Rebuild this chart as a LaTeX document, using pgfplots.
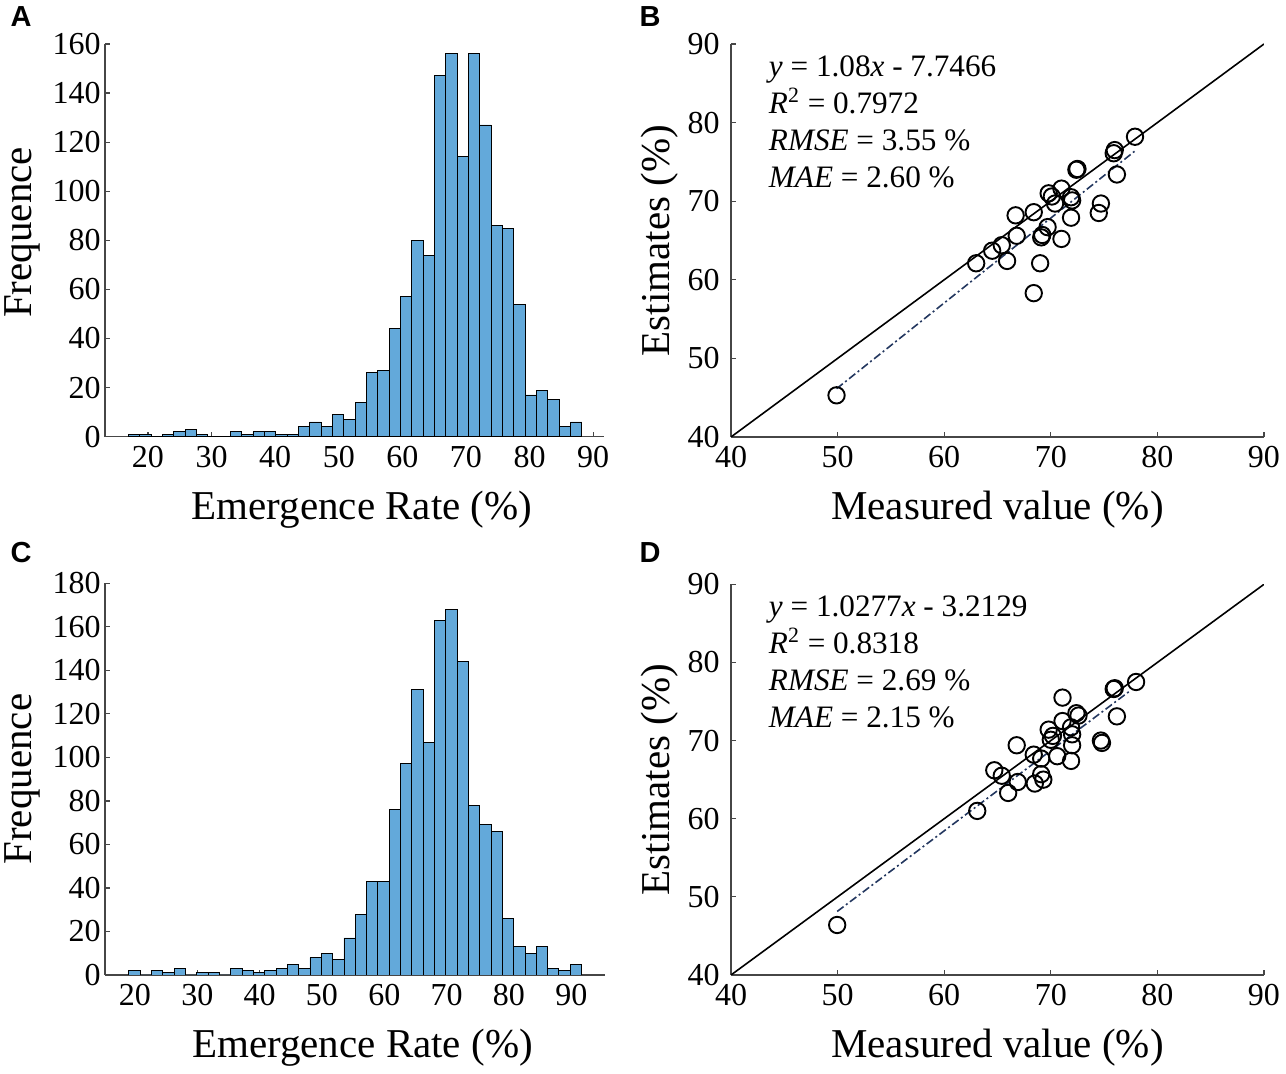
\documentclass[border=0pt]{standalone}
\usepackage{fontspec}
\setmainfont{Liberation Serif}
\newfontfamily\panelfont{Liberation Sans}
\usepackage{pgfplots}
\pgfplotsset{compat=1.18}
\definecolor{barblue}{RGB}{99,169,218}
\definecolor{fitblue}{RGB}{35,55,95}
\definecolor{axgray}{RGB}{70,70,70}
\newcommand{\tickfont}{\fontsize{16}{19}\selectfont}
\newcommand{\labfont}{\fontsize{20.5}{24}\selectfont}
\newcommand{\annfont}{\fontsize{15.6}{19}\selectfont}
\newcommand{\letterfont}{\panelfont\bfseries\fontsize{14.5}{15}\selectfont}
\pgfplotsset{
  panel/.style={
    scale only axis,
    anchor=south west,
    axis x line*=bottom,
    axis y line*=left,
    axis line style={axgray, line width=0.6pt, -},
    tick align=inside,
    major tick length=2.5pt,
    tick style={axgray, line width=0.6pt},
    ticklabel style={font=\tickfont, text=black},
    xticklabel style={inner sep=4.5pt},
    yticklabel style={inner sep=2pt},
    /pgf/number format/assume math mode=true,
    every axis label/.append style={font=\labfont},
    enlargelimits=false,
    xlabel style={at={(axis description cs:0.5,-0.186)}, anchor=center},
  },
  scat/.style={
    panel,
    xmin=40, xmax=90, ymin=40, ymax=90,
    xtick={40,50,...,90}, ytick={40,50,...,90},
    yticklabel style={inner sep=5.5pt},
    xlabel={Measured value (\%)}, ylabel={Estimates (\%)},
    ylabel style={at={(axis description cs:-0.133,0.5)}, anchor=center},
  },
}
\begin{document}
\begin{tikzpicture}
\useasboundingbox (0,0) rectangle (643pt,537pt);
% ---------- A ----------
\begin{axis}[panel, at={(52.5pt,318.65pt)}, width=249.5pt, height=196.35pt,
  xmin=13.24, xmax=91.7, ymin=0, ymax=160,
  xtick={20,30,...,90}, ytick={0,20,...,160},
  xlabel={Emergence Rate (\%)}, ylabel={Frequence},
  xlabel style={at={(axis description cs:0.515,-0.186)}},
  ylabel style={at={(axis description cs:-0.166,0.52)}, anchor=center}]
\addplot[ybar interval, fill=barblue, draw=black, line width=0.45pt] coordinates {
(16.90,1) (18.68,1) (20.47,0) (22.25,1) (24.03,2) (25.82,3) (27.60,1) (29.38,0)
(31.16,0) (32.95,2) (34.73,1) (36.51,2) (38.30,2) (40.08,1) (41.86,1) (43.65,4)
(45.43,6) (47.21,4) (48.99,9) (50.78,7) (52.56,14) (54.34,26) (56.13,27) (57.91,44)
(59.69,57) (61.48,80) (63.26,74) (65.04,147) (66.82,156) (68.61,114) (70.39,156)
(72.17,127) (73.96,86) (75.74,85) (77.52,54) (79.31,17) (81.09,19) (82.87,15)
(84.65,4) (86.44,6) (88.22,0)};
\end{axis}
% ---------- C ----------
\begin{axis}[panel, at={(52.5pt,49.5pt)}, width=250pt, height=195.85pt,
  xmin=15.2, xmax=95.4, ymin=0, ymax=180,
  xtick={20,30,...,90}, ytick={0,20,...,180},
  xlabel={Emergence Rate (\%)}, ylabel={Frequence},
  xlabel style={at={(axis description cs:0.515,-0.186)}},
  ylabel style={at={(axis description cs:-0.166,0.5)}, anchor=center}]
\addplot[ybar interval, fill=barblue, draw=black, line width=0.45pt] coordinates {
(19.04,2) (20.86,0) (22.67,2) (24.49,1) (26.30,3) (28.12,0) (29.93,1) (31.75,1)
(33.56,0) (35.38,3) (37.19,2) (39.01,1) (40.82,2) (42.64,3) (44.45,5) (46.27,3)
(48.08,8) (49.90,10) (51.71,7) (53.53,17) (55.34,28) (57.16,43) (58.97,43)
(60.79,76) (62.60,97) (64.42,131) (66.23,107) (68.05,163) (69.86,168) (71.68,144)
(73.49,78) (75.31,69) (77.12,66) (78.94,26) (80.75,13) (82.57,10) (84.38,13)
(86.20,3) (88.01,2) (89.83,5) (91.64,0)};
\end{axis}
% ---------- B ----------
\begin{axis}[scat, at={(365.5pt,318.5pt)}, width=266.5pt, height=196.5pt]
\addplot[black, line width=0.8pt] coordinates {(40,40) (90,90)};
\addplot[fitblue, line width=0.8pt, dash pattern=on 4pt off 1.5pt on 1pt off 1.5pt] coordinates {(49.9,46.14) (77.9,76.39)};
\addplot[only marks, mark=o, mark size=4.1pt, mark options={black, line width=0.95pt}] coordinates {
(49.9,45.3) (63.0,62.1) (64.5,63.7) (65.4,64.4) (65.9,62.4) (66.7,68.2) (66.8,65.6)
(68.4,68.6) (68.4,58.3) (69.0,62.1) (69.1,65.4) (69.2,65.7) (69.7,66.7) (69.8,71.0)
(70.1,70.6) (70.4,69.7) (71.0,65.2) (71.0,71.6) (71.9,70.5) (72.0,70.1) (71.9,67.9)
(72.4,74.0) (72.5,74.1) (74.7,69.7) (74.5,68.5) (75.9,76.1) (76.0,76.5) (76.2,73.4)
(77.9,78.2)};
\node[anchor=base west, font=\annfont] at (axis cs:42.9,85.9) {\textit{y} = 1.08\textit{x} - 7.7466};
\node[anchor=base west, font=\annfont] at (axis cs:42.9,81.2) {\textit{R}\textsuperscript{2} = 0.7972};
\node[anchor=base west, font=\annfont] at (axis cs:42.9,76.4) {\textit{RMSE} = 3.55 \%};
\node[anchor=base west, font=\annfont] at (axis cs:42.9,71.7) {\textit{MAE} = 2.60 \%};
\end{axis}
% ---------- D ----------
\begin{axis}[scat, at={(365.5pt,49.5pt)}, width=266.5pt, height=195.35pt]
\addplot[black, line width=0.8pt] coordinates {(40,40) (90,90)};
\addplot[fitblue, line width=0.8pt, dash pattern=on 4pt off 1.5pt on 1pt off 1.5pt] coordinates {(49.96,48.13) (77.4,76.33)};
\addplot[only marks, mark=o, mark size=4.1pt, mark options={black, line width=0.95pt}] coordinates {
(49.96,46.4) (63.1,61.0) (64.7,66.2) (65.4,65.5) (66.0,63.3) (66.8,69.4) (66.9,64.7)
(68.4,68.2) (68.5,64.5) (69.1,67.7) (69.1,65.7) (69.3,65.0) (69.8,71.4) (70.0,70.1)
(70.2,70.6) (70.6,68.0) (71.1,75.5) (71.1,72.5) (71.9,71.7) (72.0,70.8) (72.0,69.4)
(71.9,67.4) (72.4,73.5) (72.6,73.2) (74.7,70.0) (74.8,69.7) (75.9,76.6) (76.0,76.7)
(76.2,73.1) (78.0,77.5)};
\node[anchor=base west, font=\annfont] at (axis cs:42.9,85.9) {\textit{y} = 1.0277\textit{x} - 3.2129};
\node[anchor=base west, font=\annfont] at (axis cs:42.9,81.2) {\textit{R}\textsuperscript{2} = 0.8318};
\node[anchor=base west, font=\annfont] at (axis cs:42.9,76.4) {\textit{RMSE} = 2.69 \%};
\node[anchor=base west, font=\annfont] at (axis cs:42.9,71.7) {\textit{MAE} = 2.15 \%};
\end{axis}
% ---------- panel letters ----------
\node[font=\letterfont] at (10.5pt,528.5pt) {A};
\node[font=\letterfont] at (325pt,528.5pt) {B};
\node[font=\letterfont] at (10.5pt,260.5pt) {C};
\node[font=\letterfont] at (325pt,260.5pt) {D};
\end{tikzpicture}
\end{document}
